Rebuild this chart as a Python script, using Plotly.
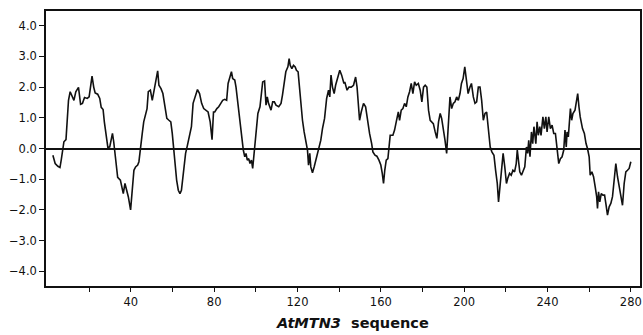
import plotly.graph_objects as go

# Residue position along the AtMTN3 sequence
seq_pos = [
    2.6, 3.7, 5.0, 6.0, 6.6, 7.3, 7.9, 8.9, 9.5, 10.1, 10.9, 11.7, 12.7, 13.6, 14.9, 15.9, 16.8, 17.8,
    19.1, 20.0, 20.6, 21.4, 22.2, 22.9, 24.1, 25.1, 25.8, 26.7, 27.3, 28.2, 29.0, 29.9, 30.7, 31.2,
    31.8, 32.5, 33.1, 33.7, 35.0,
    35.6, 36.4, 37.2, 38.0, 38.8, 39.9, 40.7, 41.5, 42.3, 43.3, 43.9, 44.7, 45.5, 46.2, 47.1, 47.8,
    48.4, 49.4, 50.3, 51.3, 52.0, 52.9, 53.5, 54.5, 55.4, 56.4, 57.3, 58.3, 59.2, 59.9, 60.5, 61.2,
    62.0, 62.8, 63.6, 64.3, 65.1, 66.3, 67.2, 68.4, 69.1, 69.9, 70.8, 72.0,
    73.0, 74.0, 75.0, 76.2, 77.1, 78.1, 79.0, 79.7, 80.3, 81.3, 82.2, 83.2, 84.1, 85.1, 86.0, 86.7,
    87.7, 88.3, 88.9, 89.9, 90.5, 91.2, 91.8, 92.6, 93.4, 94.0, 94.7, 95.3, 95.9, 96.6, 97.2, 97.9,
    98.5, 99.2, 99.8, 100.4, 101.0, 102.0, 102.6, 103.3, 104.2, 104.9, 105.5, 106.1,
    107.3, 108.1, 108.9, 109.7, 111.0, 112.1, 112.8, 113.6, 114.4, 115.4, 116.0, 116.5, 117.3, 118.1,
    118.9, 119.5, 120.3, 120.8, 121.6, 122.4, 123.2, 124.0, 124.8, 125.3, 125.9, 126.4, 127.2, 128.0,
    128.8, 129.6, 130.4, 131.2, 132.0, 133.0, 134.0, 134.9, 135.5, 136.1, 136.8, 137.6, 138.3, 139.1,
    140.3, 141.2, 142.3,
    142.7, 143.8, 144.7, 145.8, 146.9, 147.9, 148.6, 149.2, 149.8, 150.6, 151.7, 152.7, 153.7, 154.6,
    155.6, 156.2, 157.2, 158.1, 159.1, 160.0, 160.7, 161.3, 161.9, 162.6, 163.4, 163.9, 164.5, 165.8,
    166.6, 167.4, 168.4, 169.0, 169.8, 170.6, 171.4, 172.2, 173.0, 173.8, 174.6, 175.4, 176.2, 177.0,
    178.0,
    178.9, 179.7, 180.5, 181.3, 182.1, 182.9, 183.7, 184.5, 185.2, 186.1, 186.9, 187.7, 188.5, 189.2,
    190.0, 190.8, 191.6, 192.4, 193.2, 194.0, 194.8, 195.6, 196.4, 197.2, 198.0, 198.7, 199.5, 200.3,
    201.1, 201.9, 202.8, 203.5, 204.4, 205.2, 206.0, 206.8, 207.6, 208.4, 209.2, 210.0, 210.8, 211.7,
    212.5, 213.3,
    214.3, 215.1, 215.9, 216.5, 217.2, 218.0, 218.7, 219.5, 220.3, 220.9, 221.8, 222.6, 223.4, 224.2,
    225.0, 225.5, 226.1, 226.7, 227.5, 228.3, 229.1, 229.9, 230.5, 231.0, 231.6, 232.3, 232.9, 233.5,
    234.4, 235.0, 235.6, 236.3, 236.9, 237.8, 238.5, 239.2, 239.8, 240.6, 241.4, 242.2, 243.0, 243.8,
    244.6, 245.4, 246.2, 247.0, 247.8, 248.4,
    249.0, 249.4, 250.0, 251.0, 251.6, 252.2, 253.2, 253.8, 254.5, 255.1, 255.7, 256.8, 257.7, 258.5,
    259.2, 260.0, 260.5, 261.3, 262.1, 262.9, 263.6, 264.0, 264.5, 265.1, 265.8, 266.6, 267.4, 268.0,
    268.8, 269.6, 270.4, 271.2, 272.0, 272.8, 273.6, 274.4, 275.2, 276.0, 276.8, 277.6, 278.4, 279.2,
    280.0,
]

# Hydropathy index values
hydropathy = [
    -0.22, -0.49, -0.58, -0.62, -0.38, 0.00, 0.22, 0.29, 1.03, 1.57, 1.85, 1.74, 1.57, 1.85, 1.99, 1.44, 1.47, 1.66,
    1.63, 1.68, 2.00, 2.36, 2.00, 1.81, 1.77, 1.63, 1.34, 1.27, 0.87, 0.43, 0.03, 0.05, 0.33, 0.49,
    0.22, -0.22, -0.71, -0.94, -1.03,
    -1.19, -1.47, -1.14, -1.36, -1.57, -2.00, -1.36, -0.71, -0.60, -0.54, -0.43, -0.05, 0.49, 0.87, 1.09, 1.30,
    1.85, 1.90, 1.57, 1.90, 2.12, 2.53, 2.06, 1.95, 1.79, 1.30, 0.98, 0.92, 0.87, 0.49, 0.05, -0.49,
    -1.03, -1.36, -1.47, -1.36, -0.81, -0.16, 0.11, 0.49, 0.71, 1.47, 1.68, 1.92,
    1.79, 1.47, 1.30, 1.25, 1.19, 0.87, 0.29, 1.19, 1.19, 1.30, 1.36, 1.47, 1.57, 1.60, 1.57, 2.12,
    2.33, 2.50, 2.28, 2.23, 2.00, 1.57, 1.25, 0.87, 0.27, -0.05, -0.27, -0.16, -0.38, -0.33, -0.49, -0.38,
    -0.65, -0.16, 0.27, 0.81, 1.14, 1.36, 1.79, 2.17, 2.20, 1.41, 1.68, 1.47,
    1.25, 1.52, 1.52, 1.41, 1.36, 1.47, 1.74, 2.23, 2.50, 2.66, 2.93, 2.71, 2.60, 2.71,
    2.66, 2.55, 2.50, 2.12, 1.36, 0.92, 0.54, 0.27, -0.05, -0.54, -0.16, -0.60, -0.79, -0.60,
    -0.38, -0.16, 0.00, 0.27, 0.65, 0.98, 1.63, 1.90, 1.68, 2.39, 2.00, 1.79, 2.06, 2.23,
    2.55, 2.39, 2.12,
    2.17, 1.90, 2.00, 2.00, 2.06, 2.33, 2.00, 1.47, 0.92, 1.19, 1.47, 1.36, 0.81, 0.49,
    0.16, -0.11, -0.22, -0.25, -0.38, -0.54, -0.81, -1.14, -0.71, -0.38, -0.33, 0.05, 0.43, 0.43,
    0.60, 0.87, 1.19, 0.92, 1.25, 1.30, 1.47, 1.36, 1.68, 1.85, 2.12, 1.79, 2.17, 2.06,
    2.12,
    1.90, 1.52, 2.00, 2.06, 2.00, 1.25, 0.92, 0.87, 0.81, 0.54, 0.33, 0.87, 1.14, 0.98,
    0.65, 0.27, -0.16, 0.81, 1.68, 1.30, 1.47, 1.52, 1.68, 1.57, 1.79, 2.12, 2.28, 2.66,
    2.12, 1.79, 2.00, 2.12, 1.68, 1.47, 1.52, 2.00, 2.00, 1.57, 0.92, 1.14, 1.19, 0.49,
    0.05, -0.11,
    -0.22, -0.71, -1.14, -1.74, -1.25, -0.60, -0.16, -0.60, -1.14, -0.98, -0.81, -0.87, -0.71, -0.76,
    -0.49, -0.05, -0.49, -0.76, -0.87, -0.71, -0.60, 0.05, -0.16, 0.27, -0.27, 0.54, 0.16, 0.71,
    0.16, 0.87, 0.43, 0.71, 0.43, 1.03, 0.65, 1.03, 0.54, 1.03, 0.65, 0.76, 0.49, 0.49,
    -0.11, -0.49, -0.33, -0.27, -0.05, 0.60,
    0.05, 0.54, 0.38, 1.30, 0.92, 1.14, 1.25, 1.47, 1.79, 1.36, 1.03, 0.65, 0.49, 0.16,
    0.00, -0.27, -0.87, -0.76, -0.92, -1.25, -1.57, -1.95, -1.41, -1.74, -1.47, -1.52, -1.52, -1.79,
    -2.17, -1.90, -1.79, -1.57, -1.03, -0.49, -0.92, -1.25, -1.47, -1.85, -1.14, -0.76, -0.71, -0.65,
    -0.43,
]

x_tick_vals = [20, 40, 60, 80, 100, 120, 140, 160, 180, 200, 220, 240, 260, 280]
x_tick_text = ["", "40", "", "80", "", "120", "", "160", "", "200", "", "240", "", "280"]
y_tick_vals = [-4, -3, -2, -1, 0, 1, 2, 3, 4]
x_title = "<b><i>AtMTN3</i>  sequence</b>"

fig = go.Figure()
fig.add_trace(go.Scatter(
    x=seq_pos, y=hydropathy, mode="lines",
    line=dict(color="#111111", width=1.6),
    showlegend=False, hoverinfo="skip",
))

font_family = "DejaVu Sans, Verdana, sans-serif"

fig.update_layout(
    width=643, height=335,
    margin=dict(l=46, r=1, t=11, b=49),
    paper_bgcolor="white", plot_bgcolor="white",
    font=dict(family=font_family, size=12, color="#111111"),
    xaxis=dict(
        range=[-0.7, 284.4],
        tickvals=x_tick_vals, ticktext=x_tick_text,
        ticks="outside", ticklen=4, tickwidth=1.2, tickcolor="#111111",
        showline=True, linecolor="#111111", linewidth=1.6, mirror=True,
        showgrid=False, zeroline=False,
        tickfont=dict(size=11.5),
    ),
    yaxis=dict(
        range=[-4.48, 4.48],
        tickvals=y_tick_vals, tickformat=".1f",
        ticks="outside", ticklen=5, tickwidth=1.2, tickcolor="#111111",
        showline=True, linecolor="#111111", linewidth=1.6, mirror=True,
        showgrid=False,
        zeroline=True, zerolinecolor="#111111", zerolinewidth=1.6,
        tickfont=dict(size=11.5),
    ),
    annotations=[dict(
        text=x_title, xref="paper", yref="paper", x=0.516, y=-0.172,
        xanchor="center", yanchor="bottom", showarrow=False,
        font=dict(family=font_family, size=14.5, color="#111111"),
    )],
)

# Remove the default page margin so the figure fills the 643x335 window exactly.
fig.write_html(
    "out.html",
    config={"displayModeBar": False},
    post_script="document.body.style.margin='0';document.body.style.overflow='hidden';",
)
